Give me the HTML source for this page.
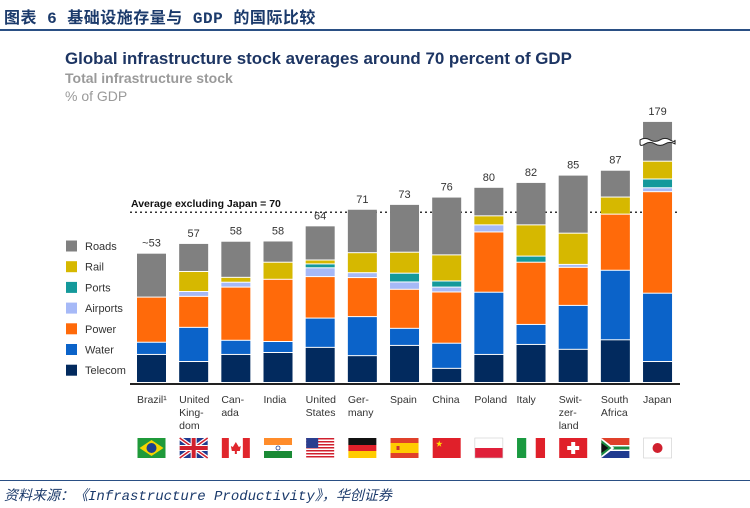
<!DOCTYPE html>
<html><head><meta charset="utf-8">
<style>
body{margin:0;width:750px;height:508px;background:#fff;overflow:hidden;font-family:"Liberation Sans","Noto Sans CJK SC",sans-serif;}
#wrap{position:relative;width:750px;height:508px;}
.hdr{position:absolute;left:4px;top:4px;font-size:16px;font-weight:bold;color:#1b3a6b;font-family:"Liberation Mono","Noto Sans CJK SC",monospace;letter-spacing:0.5px}
.src{position:absolute;left:4px;top:485px;font-size:14px;font-style:italic;color:#1b3a6b;font-family:"Liberation Mono","Noto Sans CJK SC",monospace}
</style></head>
<body><div id="wrap">
<div class="hdr">图表 6  基础设施存量与 GDP 的国际比较</div>
<div style="position:absolute;left:0;top:29px;width:750px;height:1.5px;background:#2a4f84"></div>
<div style="position:absolute;left:0;top:480px;width:750px;height:1px;background:#2a4f84"></div>
<div class="src">资料来源：《Infrastructure Productivity》，华创证券</div>
<svg id="chart" width="750" height="508" style="position:absolute;left:0;top:0">
<text x="65" y="64" font-size="16.9" font-weight="bold" fill="#1d3563">Global infrastructure stock averages around 70 percent of GDP</text>
<text x="65" y="83" font-size="14" font-weight="bold" fill="#9a9a9a">Total infrastructure stock</text>
<text x="65" y="101" font-size="14" fill="#9a9a9a">% of GDP</text>
<g id="legend"></g><g id="bars"></g><g id="flags"></g>
</svg>
</div>
<script>
const countries=["Brazil¹","United Kingdom","Canada","India","United States","Germany","Spain","China","Poland","Italy","Switzerland","South Africa","Japan"];
const labelLines=[["Brazil¹"],["United","King-","dom"],["Can-","ada"],["India"],["United","States"],["Ger-","many"],["Spain"],["China"],["Poland"],["Italy"],["Swit-","zer-","land"],["South","Africa"],["Japan"]];
const totals=["~53","57","58","58","64","71","73","76","80","82","85","87","179"];
const segNames=["Telecom","Water","Power","Airports","Ports","Rail","Roads"];
const segColors=["#022a5e","#0b63c9","#ff6a0a","#a6b9f7","#14999b","#d6b800","#808080"];
const telecom=[11.5,8.6,11.5,12.3,14.4,11,15.2,5.8,11.5,15.6,13.6,17.5,8.6];
const water=[5,14,5.8,4.5,12,16,7,10.3,25.5,8.2,18,28.5,28];
const power=[18.5,12.7,21.8,25.5,17,16,16,21,24.7,25.5,15.6,23,41.6];
const airports=[0,2,2,0,3.6,2,3,2,2.9,0,1.2,0,1.6];
const ports=[0,0,0,0,1.6,0,3.6,2.5,0,2.5,0,0,3.6];
const rail=[0,8.2,2,7,1.6,8.2,8.6,10.7,3.7,12.8,12.8,7,7.3];
const roads=[18,11.5,14.8,8.7,14,17.8,19.6,23.7,11.7,17.4,23.8,11,88];
const average=70;
const axisCap=107; // values above this are drawn with an axis break
const base=383,unit=2.44,x0=137,pitch=42.17,bw=29;
const ns="http://www.w3.org/2000/svg";
function y(v){return base-v*unit;}
function xb(i){return x0+i*pitch;}
function mk(t,a,p){const e=document.createElementNS(ns,t);for(const k in a)e.setAttribute(k,a[k]);p.appendChild(e);return e;}
const series=[telecom,water,power,airports,ports,rail,roads];
const gb=document.getElementById('bars');
const avl=mk('line',{x1:130,x2:680,y1:y(average),y2:y(average),stroke:'#333','stroke-width':1.5,'stroke-dasharray':'2,3'},gb);


const avt=mk('text',{x:131,y:y(average)-5,'font-size':10.5,'font-weight':'bold',fill:'#111'},gb);
avt.textContent='Average excluding Japan = '+average;


countries.forEach((c,i)=>{
  let cum=0;
  series.forEach((s,k)=>{
    const v=s[i]; if(v<=0)return;
    let top=Math.min(cum+v,axisCap);
    const r=mk('rect',{x:xb(i),y:y(top),width:bw,height:Math.max(0,(top-cum)*unit-1),fill:segColors[k]},gb);
    
    
    cum+=v;
  });
  const shown=Math.min(cum,axisCap);
  if(cum>axisCap){
    const by=y(axisCap)+18;
    const br=mk('path',{d:`M${xb(i)-3},${by} q5,-3 10,0 t10,0 t10,0 t5,0 v4 q-5,-3 -10,0 t-10,0 t-10,0 t-5,0 z`,fill:'#fff',stroke:'#222','stroke-width':1},gb);
    
    
  }
  const t=mk('text',{x:xb(i)+bw/2,y:y(shown)-7,'text-anchor':'middle','font-size':11,fill:'#333'},gb);
  t.textContent=totals[i];
  
  
  const lt=mk('text',{x:xb(i),y:403,'font-size':10.5,fill:'#333'},gb);
  labelLines[i].forEach((ln,j)=>{const ts=mk('tspan',{x:xb(i),dy:j?13:0},lt);ts.textContent=ln;});
  
  
});
const ax=mk('line',{x1:130,x2:680,y1:base+1,y2:base+1,stroke:'#222','stroke-width':2},gb);


const gl=document.getElementById('legend');
for(let k=6;k>=0;k--){
  const yy=246+(6-k)*20.7;
  const g=mk('g',{},gl);
  
  
  mk('rect',{x:66,y:yy-5.5,width:11,height:11,fill:segColors[k]},g);
  const t=mk('text',{x:85,y:yy+4,'font-size':11,fill:'#333'},g);t.textContent=segNames[k];
}
const gf=document.getElementById('flags');
function flag(i){
  const fx=xb(i)+0.5,fy=438,w=28,h=20;
  const g=mk('g',{transform:`translate(${fx},${fy})`},gf);
  
  
  const R=(x,y,ww,hh,f)=>mk('rect',{x,y,width:ww,height:hh,fill:f},g);
  switch(i){
  case 0:R(0,0,w,h,'#1f9a3a');mk('polygon',{points:`14,2 26,10 14,18 2,10`,fill:'#f5d400'},g);mk('circle',{cx:14,cy:10,r:5,fill:'#1d3f8f'},g);break;
  case 1:R(0,0,w,h,'#1f3a8f');mk('path',{d:`M0,0L${w},${h}M${w},0L0,${h}`,stroke:'#fff','stroke-width':4},g);mk('path',{d:`M0,0L${w},${h}M${w},0L0,${h}`,stroke:'#d0202e','stroke-width':1.5},g);R(11,0,6,h,'#fff');R(0,7,w,6,'#fff');R(12,0,4,h,'#d0202e');R(0,8,w,4,'#d0202e');break;
  case 2:R(0,0,w,h,'#fff');R(0,0,7,h,'#e0262c');R(21,0,7,h,'#e0262c');mk('polygon',{points:'14,4 17,9 19,8 18,13 15,13 15,16 13,16 13,13 10,13 9,8 11,9',fill:'#e0262c'},g);break;
  case 3:R(0,0,w,7,'#ff8c2a');R(0,7,w,6,'#fff');R(0,13,w,7,'#1a8a35');mk('circle',{cx:14,cy:10,r:2,fill:'none',stroke:'#1d3f8f','stroke-width':0.8},g);break;
  case 4:R(0,0,w,h,'#fff');for(let s=0;s<7;s++)R(0,s*3,w,1.5,'#d0202e');R(0,0,12,10,'#2a3f8f');break;
  case 5:R(0,0,w,7,'#111');R(0,7,w,6,'#e0202a');R(0,13,w,7,'#ffcc00');break;
  case 6:R(0,0,w,h,'#e0402a');R(0,5,w,10,'#ffcc00');R(6,8,3,4,'#c33');break;
  case 7:R(0,0,w,h,'#e0202a');mk('text',{x:3,y:8,'font-size':7,fill:'#ffde00'},g).textContent='★';break;
  case 8:R(0,0,w,h,'#fff');R(0,10,w,10,'#e0203a');mk('rect',{x:0,y:0,width:w,height:h,fill:'none',stroke:'#ccc','stroke-width':0.6},g);break;
  case 9:R(0,0,9.3,h,'#1a9a40');R(9.3,0,9.4,h,'#fff');R(18.7,0,9.3,h,'#e0202a');break;
  case 10:R(0,0,w,h,'#e0202a');R(12,4,4,12,'#fff');R(8,8,12,4,'#fff');break;
  case 11:R(0,0,w,7,'#e0402a');R(0,13,w,7,'#1f3a8f');R(0,7,w,6,'#fff');R(0,8.5,w,3,'#1a8a40');mk('polygon',{points:'0,0 13,10 0,20',fill:'#fff'},g);mk('polygon',{points:'0,2 10,10 0,18',fill:'#1a8a40'},g);mk('polygon',{points:'0,5 7,10 0,15',fill:'#111'},g);break;
  case 12:R(0,0,w,h,'#fff');mk('circle',{cx:14,cy:10,r:5,fill:'#d0202e'},g);mk('rect',{x:0,y:0,width:w,height:h,fill:'none',stroke:'#ccc','stroke-width':0.6},g);break;
  }
}
countries.forEach((c,i)=>flag(i));
</script>
</body></html>
